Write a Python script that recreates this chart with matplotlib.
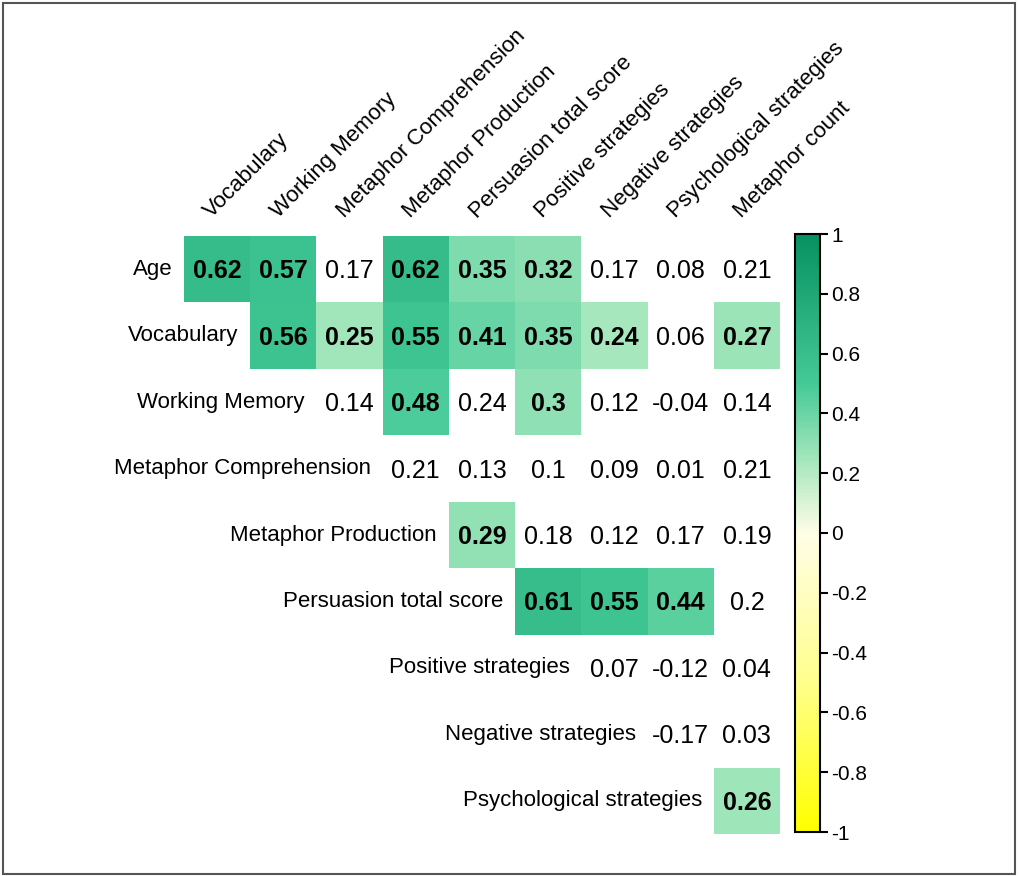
import numpy as np
import matplotlib
matplotlib.use("Agg")
import matplotlib.pyplot as plt
from matplotlib.colors import LinearSegmentedColormap
from matplotlib.patches import Rectangle

plt.rcParams['font.family'] = ['Liberation Sans', 'DejaVu Sans']
plt.rcParams['axes.unicode_minus'] = False

row_labels = ['Age', 'Vocabulary', 'Working Memory', 'Metaphor Comprehension',
              'Metaphor Production', 'Persuasion total score', 'Positive strategies',
              'Negative strategies', 'Psychological strategies']
col_labels = ['Vocabulary', 'Working Memory', 'Metaphor Comprehension',
              'Metaphor Production', 'Persuasion total score', 'Positive strategies',
              'Negative strategies', 'Psychological strategies', 'Metaphor count']

# upper triangle, row i starts at column i
corr_rows = [
    [0.62, 0.57, 0.17, 0.62, 0.35, 0.32, 0.17, 0.08, 0.21],
    [0.56, 0.25, 0.55, 0.41, 0.35, 0.24, 0.06, 0.27],
    [0.14, 0.48, 0.24, 0.3, 0.12, -0.04, 0.14],
    [0.21, 0.13, 0.1, 0.09, 0.01, 0.21],
    [0.29, 0.18, 0.12, 0.17, 0.19],
    [0.61, 0.55, 0.44, 0.2],
    [0.07, -0.12, 0.04],
    [-0.17, 0.03],
    [0.26],
]
signif_rows = [
    [1, 1, 0, 1, 1, 1, 0, 0, 0],
    [1, 1, 1, 1, 1, 1, 0, 1],
    [0, 1, 0, 1, 0, 0, 0],
    [0, 0, 0, 0, 0, 0],
    [1, 0, 0, 0, 0],
    [1, 1, 1, 0],
    [0, 0, 0],
    [0, 0],
    [1],
]
cbar_ticks = [-1, -0.8, -0.6, -0.4, -0.2, 0, 0.2, 0.4, 0.6, 0.8, 1]

n = len(row_labels)
vals = np.full((n, n), np.nan)
sig = np.zeros((n, n), dtype=bool)
for i, (r, s) in enumerate(zip(corr_rows, signif_rows)):
    vals[i, i:] = r
    sig[i, i:] = np.array(s, dtype=bool)

cmap = LinearSegmentedColormap.from_list(
    'ylgn', [(0.0, '#ffff00'), (0.25, '#ffff8c'), (0.5, '#fffde6'),
             (0.625, '#a3e6bb'), (0.75, '#45ca97'), (1.0, '#079161')])

W, H = 1019, 876
fig = plt.figure(figsize=(W / 100, H / 100), dpi=100)
ax = fig.add_axes([184 / W, 1 - 834 / H, 596 / W, 598 / H])

# only significant cells get a fill colour
shown = np.ma.masked_where(~sig, vals)
mesh = ax.pcolormesh(np.arange(n + 1), np.arange(n + 1), shown, cmap=cmap,
                     vmin=-1, vmax=1)
ax.set_xlim(0, n)
ax.set_ylim(n, 0)
ax.axis('off')

for i in range(n):
    for j in range(i, n):
        v = vals[i, j]
        ax.text(j + 0.5, i + 0.53, f"{v:g}", ha='center', va='center',
                fontsize=18, fontweight='bold' if sig[i, j] else 'normal',
                color='black')
    ax.text(i - 0.18, i + 0.5, row_labels[i], ha='right', va='center',
            fontsize=16)

for j, lab in enumerate(col_labels):
    ax.text(j + 0.42, -0.26, lab, rotation=45, rotation_mode='anchor',
            ha='left', va='baseline', fontsize=16)

cax = fig.add_axes([795 / W, 1 - 832 / H, 25 / W, 598 / H])
cb = fig.colorbar(mesh, cax=cax, ticks=cbar_ticks)
cb.ax.set_yticklabels([f"{t:g}" for t in cbar_ticks])
cb.outline.set_linewidth(1.5)
cb.ax.tick_params(labelsize=15, length=6, width=1.5, pad=2)

fig.patches.append(Rectangle((3 / W, 2 / H), 1012 / W, 871 / H,
                             transform=fig.transFigure, fill=False,
                             edgecolor='#555555', linewidth=1.5))

fig.savefig('out.png', dpi=100, facecolor='white')
